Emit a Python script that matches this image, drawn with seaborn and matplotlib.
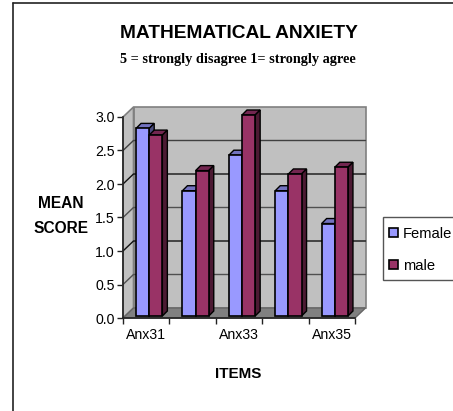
import pandas as pd
import matplotlib
matplotlib.use("Agg")
import matplotlib.pyplot as plt
import seaborn as sns
from matplotlib.lines import Line2D
from matplotlib.patches import Polygon, Rectangle

# values
items = ["Anx31", "Anx32", "Anx33", "Anx34", "Anx35"]
female = [2.8, 1.87, 2.4, 1.87, 1.38]
male = [2.7, 2.17, 3.0, 2.12, 2.22]
x_labels = ["Anx31", "", "Anx33", "", "Anx35"]
y_ticks = [0.0, 0.5, 1.0, 1.5, 2.0, 2.5, 3.0]

W, H = 453, 411
front_colors = {"Female": "#9999ff", "male": "#993366"}
top_colors = {"Female": "#7272bf", "male": "#732650"}
side_colors = {"Female": "#4c4c80", "male": "#4c1a33"}

df = pd.DataFrame({"item": items * 2,
                   "gender": ["Female"] * 5 + ["male"] * 5,
                   "score": female + male})

sns.set_theme(style="white")
plt.rcParams["font.family"] = ["Liberation Sans", "DejaVu Sans"]
plt.rcParams["text.color"] = "black"

fig = plt.figure(figsize=(W / 100, H / 100), dpi=100, facecolor="white")
ax = fig.add_axes([123 / W, 1 - 318 / H, 232 / W, 201 / H])
ax.patch.set_visible(False)

sns.barplot(data=df, x="item", y="score", hue="gender", order=items,
            palette=front_colors, width=0.567, gap=0, legend=False,
            edgecolor="black", linewidth=1.2, saturation=1, ax=ax, zorder=4)

x0, x1 = -0.5, 4.5
ax.set_xlim(x0, x1)
ax.set_ylim(0, 3)
px_x = (x1 - x0) / 232
px_y = 3 / 201

# box behind the bars: back wall, left wall, floor
dx, dy = 10.5 * px_x, 10 * px_y
ax.add_patch(Rectangle((x0 + dx, dy), x1 - x0, 3, fc="#c0c0c0", ec="#808080",
                       lw=1.2, clip_on=False, zorder=1))
ax.add_patch(Polygon([(x0, 0), (x0 + dx, dy), (x0 + dx, 3 + dy), (x0, 3)],
                     fc="#c0c0c0", ec="#808080", lw=1.2, clip_on=False, zorder=1))
ax.add_patch(Polygon([(x0, 0), (x1, 0), (x1 + dx, dy), (x0 + dx, dy)],
                     fc="#808080", ec="#666666", lw=1.0, clip_on=False, zorder=1))

# gridlines run along the left wall and the back wall
grid_colors = {0.5: "#505050", 1.0: "#111111", 1.5: "#505050", 2.0: "#111111", 2.5: "#404040"}
for v, c in grid_colors.items():
    ax.plot([x0, x0 + dx, x1 + dx], [v, v + dy, v + dy], color=c, lw=1.0,
            clip_on=False, zorder=2)

# give each bar a top and a side face
shift_x, shift_y = 3 * px_x, 2 * px_y
depth_x, depth_y = 5 * px_x, 5 * px_y
for container, name in zip(ax.containers, ["Female", "male"]):
    for bar in container:
        bar.set_x(bar.get_x() + shift_x)
        bar.set_y(bar.get_y() + shift_y)
        bar.set_clip_on(False)
        l, b = bar.get_x(), bar.get_y()
        r, t = l + bar.get_width(), b + bar.get_height()
        ax.add_patch(Polygon([(l, t), (r, t), (r + depth_x, t + depth_y), (l + depth_x, t + depth_y)],
                             fc=top_colors[name], ec="black", lw=1.0, clip_on=False, zorder=3))
        ax.add_patch(Polygon([(r, b), (r + depth_x, b + depth_y), (r + depth_x, t + depth_y), (r, t)],
                             fc=side_colors[name], ec="black", lw=1.0, clip_on=False, zorder=3))

# axes
sns.despine(ax=ax, top=True, right=True)
for s in ["left", "bottom"]:
    ax.spines[s].set_color("#222222")
    ax.spines[s].set_linewidth(1.2)
    ax.spines[s].set_zorder(5)
ax.set_yticks(y_ticks)
ax.set_yticklabels([f"{v:.1f}" for v in y_ticks], fontsize=10.2, color="black")
ax.set_xticks(range(5))
ax.set_xticklabels(x_labels, fontsize=10.2, color="black")
ax.set_xticks([x0 + i for i in range(6)], minor=True)
ax.tick_params(axis="x", which="major", length=0, pad=7)
ax.tick_params(axis="x", which="minor", length=4, width=1, color="#222222", bottom=True)
ax.tick_params(axis="y", length=4, width=1, color="#222222", left=True, pad=2)
ax.set_xlabel("")
ax.set_ylabel("")

# titles
fig.text(239 / W, 1 - 33 / H, "MATHEMATICAL ANXIETY", ha="center", va="center",
         fontsize=13.8, fontweight="bold", color="black")
fig.text(238 / W, 1 - 59 / H, "5 = strongly disagree 1= strongly agree", ha="center", va="center",
         fontsize=10.3, fontweight="bold", family="Liberation Serif", color="black")
fig.text(61 / W, 1 - 203 / H, "MEAN", ha="center", va="center", fontsize=11.2, fontweight="bold")
fig.text(61 / W, 1 - 228 / H, "SCORE", ha="center", va="center", fontsize=11.2, fontweight="bold")
fig.text(238 / W, 1 - 374 / H, "ITEMS", ha="center", va="center", fontsize=11, fontweight="bold")

# legend box runs off the right edge like the original
fig.add_artist(Rectangle((383 / W, 1 - 280 / H), 100 / W, 63 / H, transform=fig.transFigure,
                         fc="white", ec="#555555", lw=1.0))
handles = [Rectangle((0, 0), 1, 1, fc=front_colors[n], ec="black", lw=1.2) for n in ["Female", "male"]]
fig.legend(handles, ["Female", "male"], loc="upper left",
           bbox_to_anchor=(386 / W, 1 - 224 / H), bbox_transform=fig.transFigure,
           fontsize=10.6, frameon=False,
           handlelength=0.6, handleheight=0.6, handletextpad=0.35, labelspacing=1.2,
           borderpad=0.2, borderaxespad=0)

# page border top and left
fig.add_artist(Line2D([13 / W, 13 / W], [0, 1 - 3.5 / H], color="#222222", lw=1.2))
fig.add_artist(Line2D([13 / W, 1], [1 - 3.5 / H, 1 - 3.5 / H], color="#222222", lw=1.2))

fig.savefig("out.png", dpi=100)
